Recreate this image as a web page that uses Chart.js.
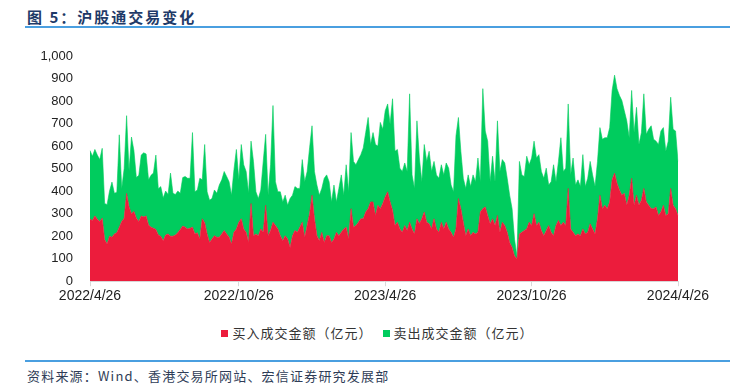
<!DOCTYPE html>
<html>
<head>
<meta charset="utf-8">
<script src="https://cdn.jsdelivr.net/npm/chart.js@4.4.1/dist/chart.umd.min.js"></script>
<style>
  html, body { margin: 0; padding: 0; width: 730px; height: 392px; overflow: hidden; background: #fff; }
  #title { position: absolute; left: 27px; top: 6px; font: bold 15px "Noto Sans CJK SC", sans-serif; color: #1F3A68; letter-spacing: 2px; white-space: nowrap; }
  .rule { position: absolute; left: 25px; width: 705px; height: 2px; background: #4A9FE0; }
  #source { position: absolute; left: 27px; top: 366px; font: 13px "Noto Sans CJK SC", sans-serif; color: #2F3D57; letter-spacing: 1.2px; white-space: nowrap; }
  #legend { position: absolute; top: 323px; left: 0; width: 755px; text-align: center; font: 13px "Noto Sans CJK SC", sans-serif; color: #333; letter-spacing: 1px; white-space: nowrap; }
  #legend span.sw { display: inline-block; width: 7px; height: 7px; margin-right: 4px; vertical-align: 1px; }
  #legend span.item { margin: 0 5px; }
  #wrap { position: absolute; left: 0; top: 0; width: 730px; height: 306px; }
</style>
</head>
<body>
<div id="title">图 5：沪股通交易变化</div>
<div class="rule" style="top:26px"></div>
<div id="wrap"><canvas id="c"></canvas></div>
<div id="legend"></div>
<div class="rule" style="top:360px"></div>
<div id="source">资料来源：Wind、香港交易所网站、宏信证券研究发展部</div>
<script>
const seriesNames = ['买入成交金额（亿元）', '卖出成交金额（亿元）'];
const seriesColors = ['#EC1C3C', '#00CC5E'];
const tickLabels = ['2022/4/26', '2022/10/26', '2023/4/26', '2023/10/26', '2024/4/26'];
const tickAt = [0, 61, 121, 181, 241];

const buy = [
275,270,290,275,265,280,185,165,200,195,210,215,240,265,280,390,330,300,310,280,
265,290,285,290,250,240,235,230,205,200,180,205,210,200,200,205,215,230,245,
240,232,235,240,210,215,187,277,260,210,172,187,202,195,195,210,225,210,195,165,
217,232,262,277,232,217,172,345,202,210,202,232,217,337,202,225,262,247,232,
202,180,202,187,150,202,225,217,240,262,195,247,300,382,277,202,180,217,172,202,
202,172,187,217,202,217,232,240,187,322,240,247,262,277,277,307,322,352,
352,292,337,322,345,375,397,352,315,247,262,232,217,247,225,262,232,210,277,255,
277,307,262,255,232,277,232,217,262,232,262,232,217,195,232,367,322,262,202,
232,202,217,210,217,307,322,330,292,255,277,247,292,217,262,247,217,172,150,112,
100,210,217,225,232,262,247,300,247,262,225,202,225,247,217,202,247,270,247,262,
247,412,232,217,202,210,202,232,210,217,255,232,210,277,382,322,337,322,352,450,
480,435,405,382,390,337,382,457,337,382,337,360,412,352,337,322,322,330,292,307,
337,292,300,412,337,322,292
];
const sell = [
305,285,295,285,275,310,160,175,200,245,180,180,410,145,220,345,160,340,270,180,
205,270,285,275,200,230,245,330,205,220,190,195,175,280,190,180,185,160,215,
225,225,222,420,187,190,270,173,347,187,188,180,203,195,232,240,262,255,247,217,
278,353,188,330,285,270,218,277,330,187,165,173,315,315,180,292,518,195,165,
195,172,180,150,217,180,195,195,172,278,247,240,292,308,210,225,202,195,285,270,
240,180,240,135,210,255,150,277,210,338,292,270,278,285,315,353,405,255,
308,315,263,383,330,382,390,345,495,330,323,270,270,278,262,570,240,202,435,292,
165,300,270,322,255,255,240,240,255,240,263,270,210,202,413,360,255,195,210,
240,218,255,232,330,135,533,337,330,187,278,195,420,270,278,278,240,210,172,75,
10,322,255,240,323,255,300,322,300,300,262,255,277,180,225,315,195,262,390,225,
255,375,240,330,225,240,218,330,210,240,277,240,210,255,300,308,300,315,330,397,
435,420,420,420,367,375,255,390,323,390,270,300,420,300,338,368,308,292,315,360,
345,285,322,405,338,345,240
];

const categories = buy.map((_, i) => i);

const legendEl = document.getElementById('legend');
legendEl.innerHTML = seriesNames.map((n, i) =>
  '<span class="item"><span class="sw" style="background:' + seriesColors[i] + '"></span>' + n + '</span>').join('');

new Chart(document.getElementById('c'), {
  type: 'line',
  data: {
    labels: categories,
    datasets: [
      { label: seriesNames[0], data: buy, backgroundColor: seriesColors[0], borderColor: seriesColors[0],
        borderWidth: 0.6, pointRadius: 0, fill: 'origin', tension: 0 },
      { label: seriesNames[1], data: sell, backgroundColor: seriesColors[1], borderColor: seriesColors[1],
        borderWidth: 0.6, pointRadius: 0, fill: '-1', tension: 0 }
    ]
  },
  options: {
    responsive: true,
    maintainAspectRatio: false,
    animation: false,
    layout: { padding: { top: 56, right: 52, bottom: 0, left: 0 } },
    plugins: { legend: { display: false }, tooltip: { enabled: false } },
    scales: {
      x: {
        type: 'category',
        grid: { display: true, drawOnChartArea: false, drawTicks: true, tickLength: 5, color: '#D9D9D9' },
        border: { display: true, color: '#D9D9D9' },
        ticks: {
          autoSkip: false, maxRotation: 0, minRotation: 0, padding: 2,
          color: '#222', font: { family: 'Liberation Sans', size: 14 },
          callback: function (v, i) { const k = tickAt.indexOf(i); return k >= 0 ? tickLabels[k] : null; }
        },
        afterFit: function (s) { s.height = 21; }
      },
      y: {
        stacked: true, min: 0, max: 1000,
        grid: { display: false, drawTicks: false },
        border: { display: false },
        ticks: {
          stepSize: 100, padding: 17, color: '#222', font: { family: 'Liberation Sans', size: 13 },
          callback: function (v) { return v.toLocaleString('en-US'); }
        },
        afterFit: function (s) { s.width = 90; }
      }
    }
  }
});
</script>
</body>
</html>
